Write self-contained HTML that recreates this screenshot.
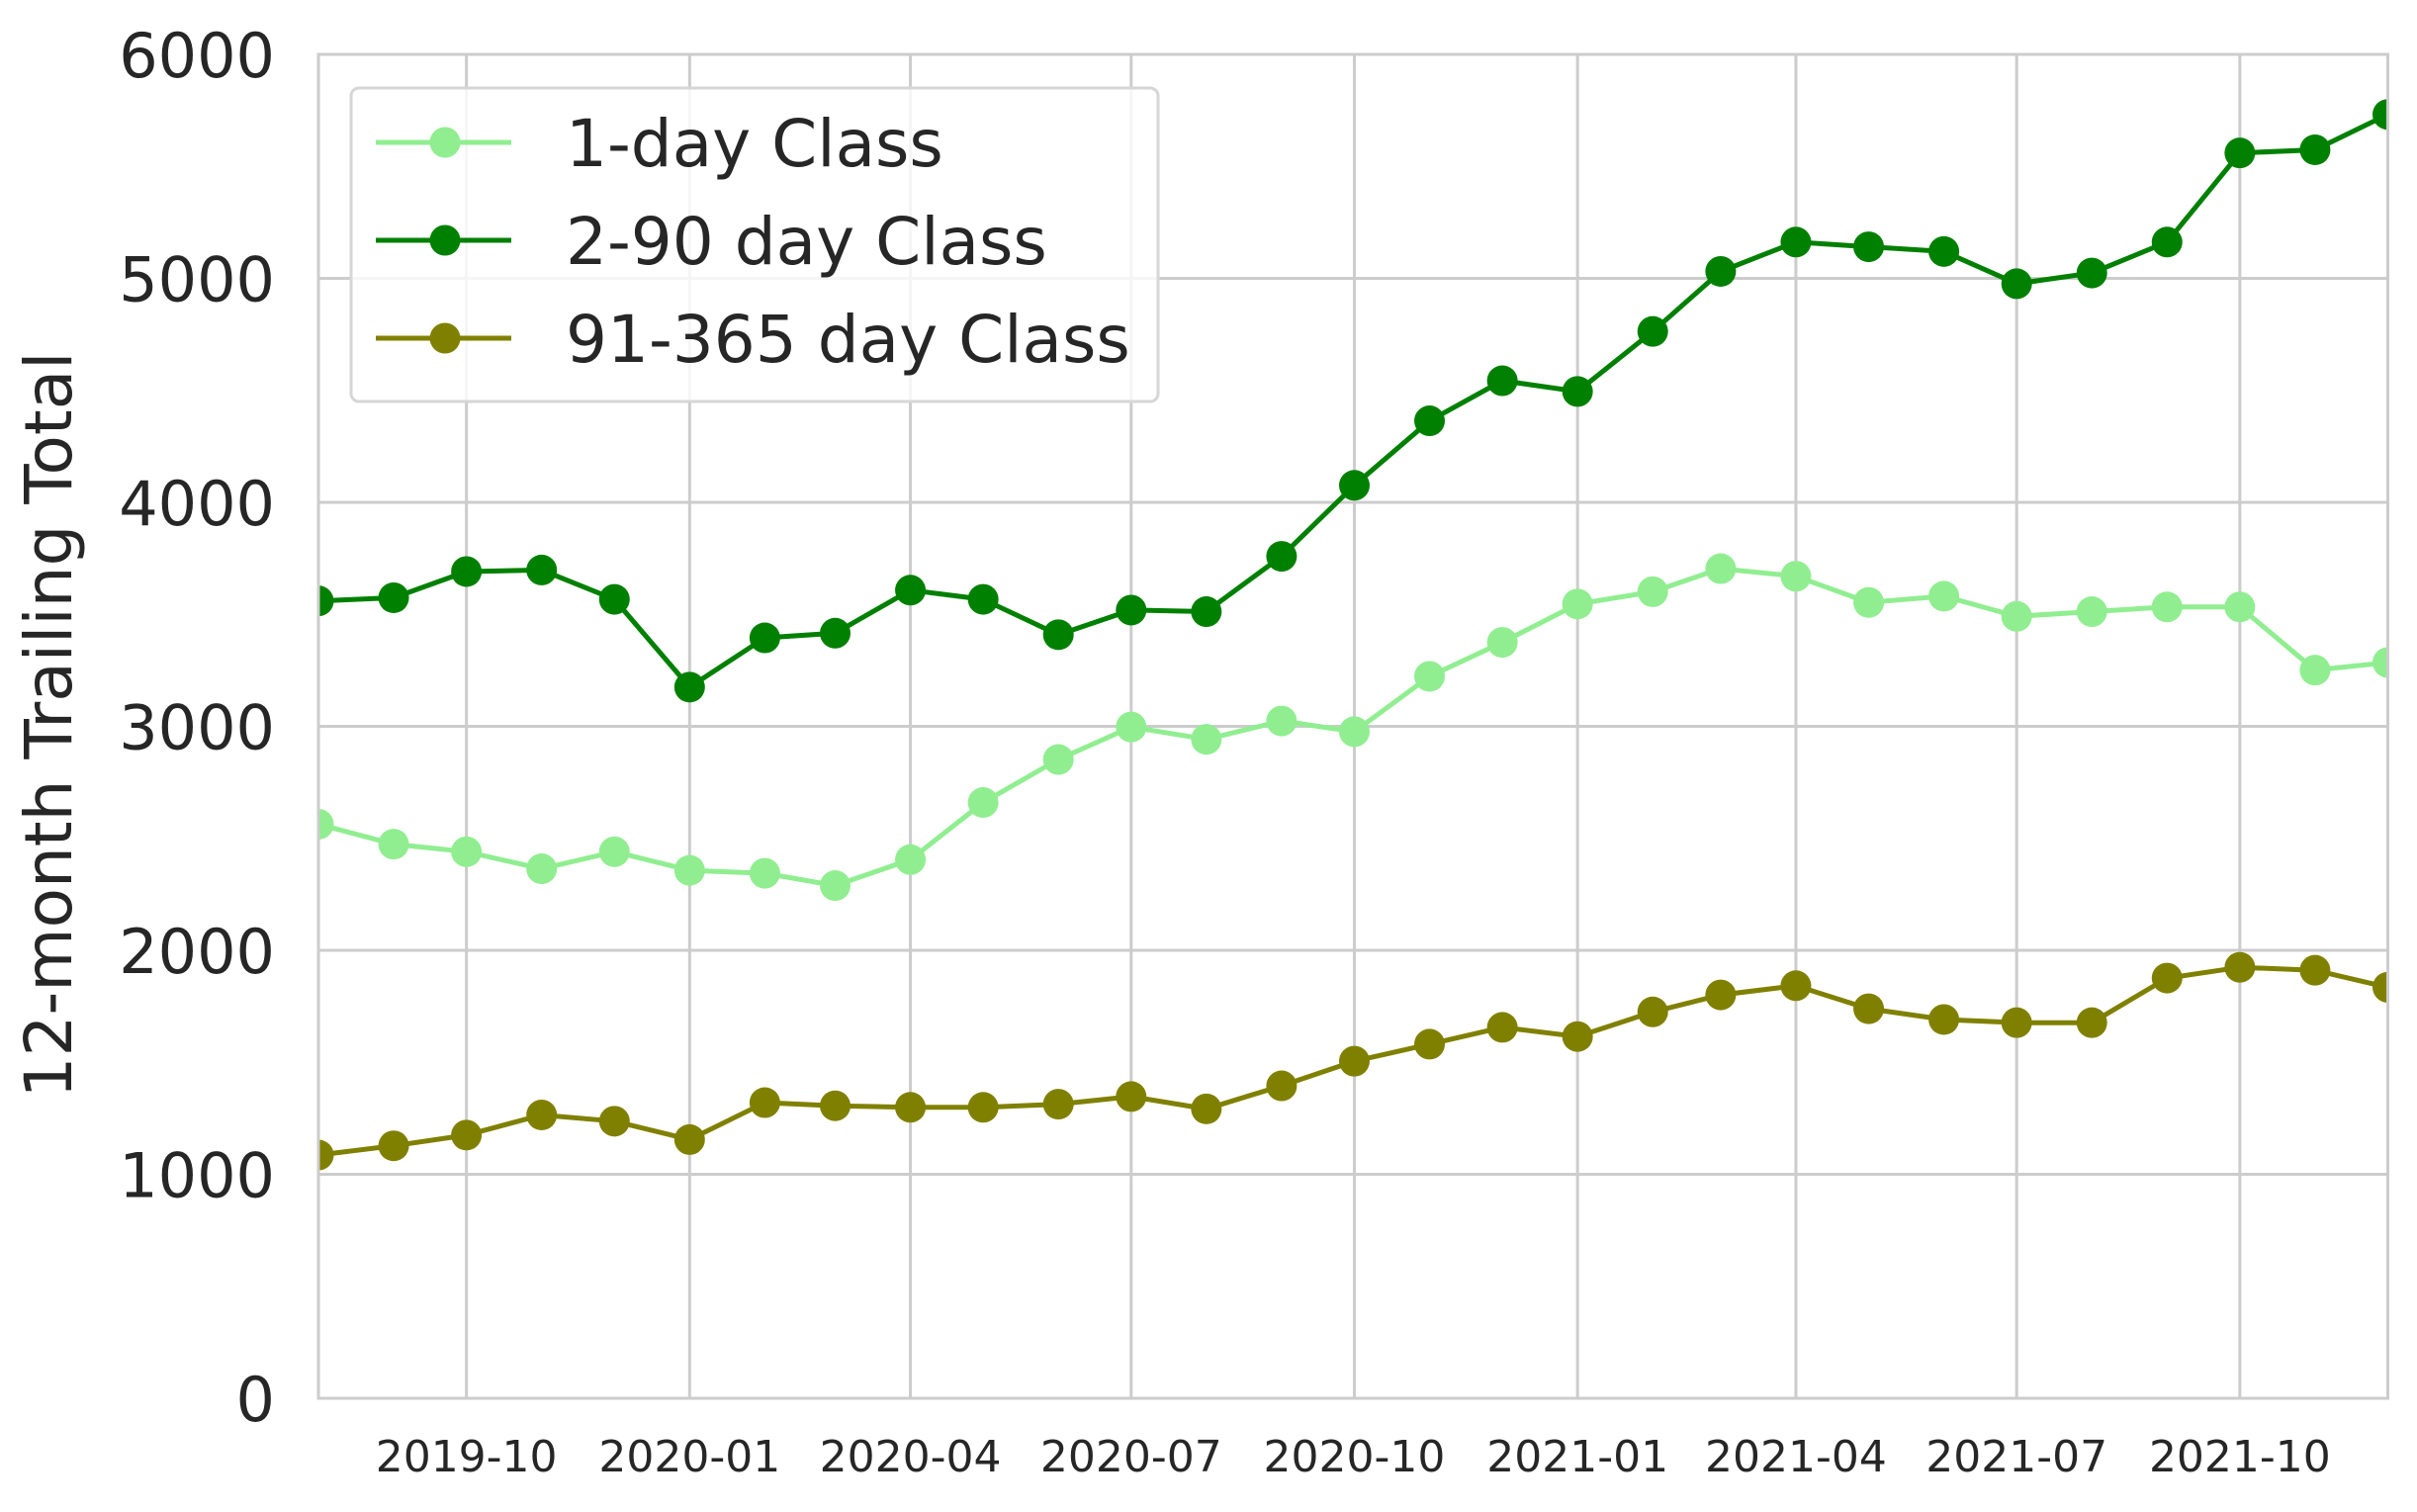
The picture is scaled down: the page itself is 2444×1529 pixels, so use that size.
<!DOCTYPE html>
<html><head><meta charset="utf-8"><style>
html,body{margin:0;padding:0;background:#fff}
svg{display:block}
text{font-family:"DejaVu Sans","Liberation Sans",sans-serif;fill:#262626}
</style></head><body>
<svg id="chart" width="2444" height="1529" viewBox="0 0 2444 1529" xmlns="http://www.w3.org/2000/svg">
<g id="grid"></g>
<g id="series"></g>
<rect x="322" y="55" width="2092.5" height="1359" fill="none" stroke="#cccccc" stroke-width="3"/>
<g id="ticks"></g>
<text transform="translate(72,733) rotate(-90)" text-anchor="middle" font-size="66">12-month Trailing Total</text>
<g>
<rect x="355" y="89" width="816" height="317" rx="8" fill="#fff" fill-opacity="0.8" stroke="#d6d6d6" stroke-width="3"/>
<g><line x1="380" y1="144" x2="517" y2="144" stroke="#90ee90" stroke-width="5"/><circle cx="450" cy="144" r="15.5" fill="#90ee90"/><text x="572" y="168" font-size="66">1-day Class</text></g>
<g><line x1="380" y1="243" x2="517" y2="243" stroke="#008000" stroke-width="5"/><circle cx="450" cy="243" r="15.5" fill="#008000"/><text x="572" y="267" font-size="66">2-90 day Class</text></g>
<g><line x1="380" y1="342" x2="517" y2="342" stroke="#808000" stroke-width="5"/><circle cx="450" cy="342" r="15.5" fill="#808000"/><text x="572" y="366" font-size="66">91-365 day Class</text></g>
</g>
</svg>
<script>
const months = ["2019-08","2019-09","2019-10","2019-11","2019-12","2020-01","2020-02","2020-03","2020-04","2020-05","2020-06","2020-07","2020-08","2020-09","2020-10","2020-11","2020-12","2021-01","2021-02","2021-03","2021-04","2021-05","2021-06","2021-07","2021-08","2021-09","2021-10","2021-11","2021-12"];
const oneDay = [2563,2474,2440,2364,2440,2357,2344,2289,2405,2660,2852,2997,2942,3024,2976,3223,3375,3546,3601,3704,3670,3553,3581,3491,3512,3533,3533,3251,3285];
const twoTo90 = [3560,3574,3691,3698,3567,3175,3395,3416,3608,3567,3409,3519,3512,3759,4076,4364,4543,4495,4763,5031,5162,5141,5120,4976,5024,5162,5560,5574,5732];
const ninetyOneTo365 = [1086,1127,1175,1265,1237,1155,1320,1306,1299,1299,1313,1347,1292,1395,1505,1581,1656,1615,1725,1801,1842,1739,1691,1677,1677,1876,1924,1911,1835];
const yTicks = [0,1000,2000,3000,4000,5000,6000];
const xTicks = ["2019-10","2020-01","2020-04","2020-07","2020-10","2021-01","2021-04","2021-07","2021-10"];

const NS="http://www.w3.org/2000/svg";
const X0=322,X1=2414.5,Y0=1414,Y1=55;
const d0=Date.UTC(2019,7,1), d1=Date.UTC(2021,11,1);
function dt(s){const p=s.split("-");return Date.UTC(+p[0],+p[1]-1,1);}
function xs(s){return X0+(dt(s)-d0)/(d1-d0)*(X1-X0);}
function ys(v){return Y0-v/6000*(Y0-Y1);}
function mk(tag,attrs,parent){const e=document.createElementNS(NS,tag);for(const k in attrs)e.setAttribute(k,attrs[k]);parent.appendChild(e);return e;}
const grid=document.getElementById("grid"),ticks=document.getElementById("ticks"),series=document.getElementById("series");
yTicks.forEach(v=>{
  const l=mk("line",{x1:X0,x2:X1,y1:ys(v),y2:ys(v),stroke:"#cccccc","stroke-width":3},grid);
  
  
  const t=mk("text",{x:278,y:ys(v)+23,"text-anchor":"end","font-size":"62"},ticks);
  t.textContent=v;
  
  
});
xTicks.forEach(s=>{
  const l=mk("line",{x1:xs(s),x2:xs(s),y1:Y1,y2:Y0,stroke:"#cccccc","stroke-width":3},grid);
  
  
  const t=mk("text",{x:xs(s),y:1488,"text-anchor":"middle","font-size":"44"},ticks);
  t.textContent=s;
  
  
});
const clip=mk("clipPath",{id:"pc"},document.getElementById("chart"));
mk("rect",{x:X0,y:Y1-20,width:X1-X0,height:Y0-Y1+20},clip);
series.setAttribute("clip-path","url(#pc)");
[[oneDay,"#90ee90","series-1-day"],[twoTo90,"#008000","series-2-90-day"],[ninetyOneTo365,"#808000","series-91-365-day"]].forEach(([vals,col,name])=>{
  const g=mk("g",{},series);
  
  
  const pts=vals.map((v,i)=>xs(months[i]).toFixed(1)+","+ys(v).toFixed(1)).join(" ");
  const pl=mk("polyline",{points:pts,fill:"none",stroke:col,"stroke-width":5},g);
  
  
  vals.forEach((v,i)=>{
    const c=mk("circle",{cx:xs(months[i]),cy:ys(v),r:15.5,fill:col},g);
    
    
  });
});
</script>
</body></html>
